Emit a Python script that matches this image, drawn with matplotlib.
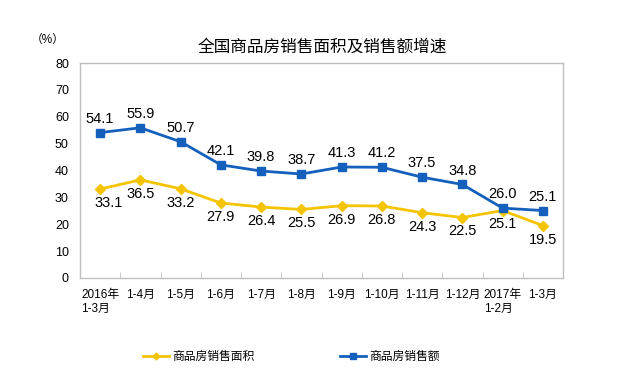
import matplotlib
matplotlib.use("Agg")
import matplotlib.pyplot as plt
import numpy as np

plt.rcParams['font.family'] = ['Liberation Sans', 'Noto Sans CJK SC', 'DejaVu Sans']

categories = ['2016年\n1-3月', '1-4月', '1-5月', '1-6月', '1-7月', '1-8月', '1-9月',
              '1-10月', '1-11月', '1-12月', '2017年\n1-2月', '1-3月']
area = [33.1, 36.5, 33.2, 27.9, 26.4, 25.5, 26.9, 26.8, 24.3, 22.5, 25.1, 19.5]
sales = [54.1, 55.9, 50.7, 42.1, 39.8, 38.7, 41.3, 41.2, 37.5, 34.8, 26.0, 25.1]

yellow = '#F5C400'
blue = '#1560BD'

fig = plt.figure(figsize=(6.31, 3.92), dpi=100)
ax = fig.add_axes([80/631, 1 - 278/392, 483/631, 215/392])

x = np.arange(len(categories))
l1, = ax.plot(x, area, color=yellow, lw=2.0, marker='D', ms=5, label='商品房销售面积',
              solid_joinstyle='round', zorder=3)
l2, = ax.plot(x, sales, color=blue, lw=2.0, marker='s', ms=5.5, label='商品房销售额',
              solid_joinstyle='round', zorder=4)

for i, v in enumerate(sales):
    ax.annotate(f'{v:.1f}', (i, v), xytext=(0, 5), textcoords='offset points',
                ha='center', va='bottom', fontsize=10.5)
for i, v in enumerate(area):
    dx = 6 if i == 0 else 0
    ax.annotate(f'{v:.1f}', (i, v), xytext=(dx, -5), textcoords='offset points',
                ha='center', va='top', fontsize=10.5)

ax.set_xlim(-0.5, len(categories) - 0.5)
ax.set_ylim(0, 80)
ax.set_yticks(range(0, 81, 10))
ax.set_xticks(x)
ax.set_xticklabels(categories, fontsize=8.5, multialignment='left')
ax.set_xticks(np.arange(-0.5, len(categories), 1), minor=True)
ax.tick_params(axis='x', which='major', length=0, pad=8)
ax.tick_params(axis='x', which='minor', direction='in', length=4, color='#BFBFBF')
ax.tick_params(axis='y', length=0, pad=8, labelsize=9)
for s in ax.spines.values():
    s.set_color('#BFBFBF')
    s.set_linewidth(1)

fig.text(48/631, 1 - 40/392, '（%）', fontsize=8.5, ha='center', va='center')
fig.text(322/631, 1 - 47/392, '全国商品房销售面积及销售额增速', fontsize=12,
         ha='center', va='center')

leg1 = fig.legend(handles=[l1], loc='center left', bbox_to_anchor=(143/631, 1 - 357/392),
                  frameon=False, fontsize=8.5, handlelength=2.2, handletextpad=0.3,
                  markerscale=0.7, borderaxespad=0, borderpad=0)
leg2 = fig.legend(handles=[l2], loc='center left', bbox_to_anchor=(340/631, 1 - 357/392),
                  frameon=False, fontsize=8.5, handlelength=2.2, handletextpad=0.3,
                  markerscale=0.7, borderaxespad=0, borderpad=0)

fig.savefig('out.png', dpi=100)
